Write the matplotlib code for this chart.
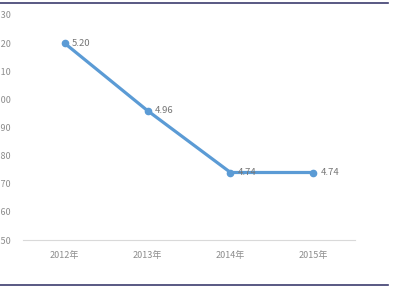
import matplotlib
matplotlib.use('Agg')
import matplotlib.pyplot as plt
from matplotlib.lines import Line2D

plt.rcParams['font.family'] = ['Noto Sans CJK SC', 'DejaVu Sans']

years = ['2012年', '2013年', '2014年', '2015年']
values = [5.20, 4.96, 4.74, 4.74]
y_ticks = [4.50, 4.60, 4.70, 4.80, 4.90, 5.00, 5.10, 5.20, 5.30]

W, H = 401, 291
fig = plt.figure(figsize=(W / 100, H / 100), dpi=100)
ax = fig.add_axes([23 / W, 1 - 240 / H, 332 / W, 225 / H])

x = list(range(len(years)))
ax.plot(x, values, color='#5B9BD5', linewidth=2.3, marker='o', markersize=4.5)
for xi, v in zip(x, values):
    ax.annotate('%.2f' % v, (xi, v), xytext=(5, 0), textcoords='offset points',
                ha='left', va='center', fontsize=6.8, color='#767676')

ax.set_xlim(-0.5, 3.5)
ax.set_ylim(4.5, 5.3)
ax.set_xticks(x)
ax.set_xticklabels(years)
ax.set_yticks(y_ticks)
ax.set_yticklabels(['%.2f' % t for t in y_ticks])
ax.tick_params(axis='both', length=0, labelsize=6.5, colors='#8C8C8C')
ax.tick_params(axis='y', pad=8)
ax.tick_params(axis='x', pad=8)
for s in ['top', 'right', 'left']:
    ax.spines[s].set_visible(False)
ax.spines['bottom'].set_color('#D9D9D9')

# frame lines at top and bottom of the picture
fig.add_artist(Line2D([0, 388 / W], [1 - 3 / H, 1 - 3 / H], color='#3C3C6E', linewidth=1.2))
fig.add_artist(Line2D([0, 388 / W], [1 - 285 / H, 1 - 285 / H], color='#3C3C6E', linewidth=1.2))

fig.savefig('out.png', dpi=100)
